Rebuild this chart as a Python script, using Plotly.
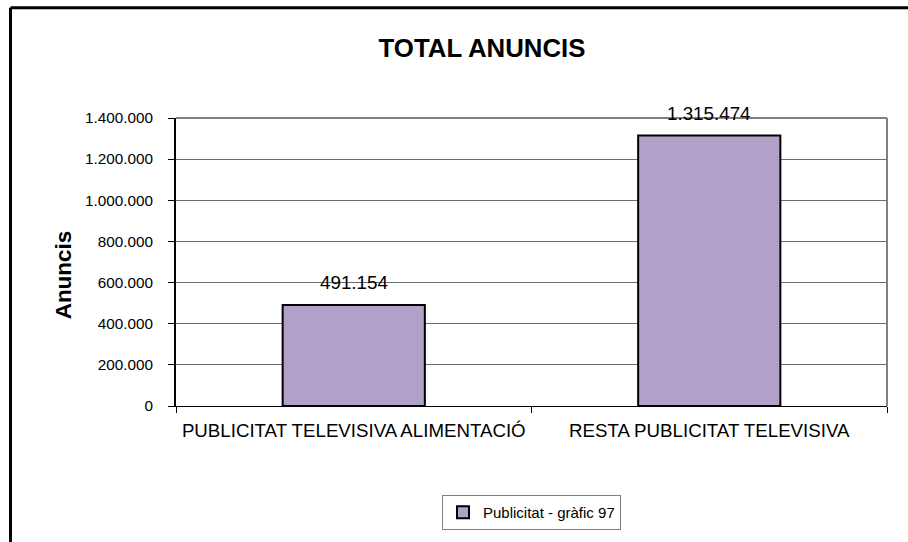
import plotly.graph_objects as go

categories = ["PUBLICITAT TELEVISIVA ALIMENTACIÓ", "RESTA PUBLICITAT TELEVISIVA"]
values = [491154, 1315474]
series_name = "Publicitat - gràfic 97"
y_ticks = [0, 200000, 400000, 600000, 800000, 1000000, 1200000, 1400000]
title_text = "TOTAL ANUNCIS"
y_title = "Anuncis"

FONT = "Liberation Sans, Arial, sans-serif"

fig = go.Figure()
fig.add_trace(go.Bar(
    x=categories, y=values, name=series_name,
    marker=dict(color="#B1A0C7", line=dict(color="black", width=2)),
    width=0.4, showlegend=True,
))

L, R, T, B = 176, 21, 118, 133
W, H = 908, 542
pw, ph = W - L - R, H - T - B


def px_x(x):
    return (x - L) / pw


def px_y(y):
    return (H - B - y) / ph


annotations = []
for c, v in zip(categories, values):
    annotations.append(dict(
        x=c, y=v, xref="x", yref="y", text=f"{v:,}".replace(",", "."),
        showarrow=False, yanchor="middle", yshift=22,
        font=dict(family=FONT, size=18.8, color="black"),
    ))
annotations.append(dict(
    x=px_x(63), y=px_y(276), xref="paper", yref="paper",
    text=f"<b>{y_title}</b>", textangle=-90, showarrow=False,
    xanchor="center", yanchor="middle",
    font=dict(family=FONT, size=22.5, color="black"),
))

shapes = [
    # outer chart border (left and top visible)
    dict(type="line", xref="paper", yref="paper", x0=px_x(10.5), x1=px_x(10.5), y0=px_y(6.5), y1=px_y(560),
         line=dict(color="black", width=3)),
    dict(type="line", xref="paper", yref="paper", x0=px_x(10.5), x1=px_x(920), y0=px_y(6.5), y1=px_y(6.5),
         line=dict(color="black", width=3)),
    # plot area top/right border
    dict(type="line", xref="paper", yref="paper", x0=0, x1=1, y0=1, y1=1,
         line=dict(color="#808080", width=2), layer="above"),
    dict(type="line", xref="paper", yref="paper", x0=1, x1=1, y0=0, y1=1,
         line=dict(color="#808080", width=2), layer="above"),
]

fig.update_layout(
    width=W, height=H,
    margin=dict(l=L, r=R, t=T, b=B),
    paper_bgcolor="white", plot_bgcolor="white",
    separators=",.",
    font=dict(family=FONT, size=16, color="black"),
    title=dict(text=f"<b>{title_text}</b>", x=482 / W, xanchor="center",
               y=1 - 48 / H, yanchor="middle", font=dict(size=25.8, family=FONT, color="black")),
    xaxis=dict(
        type="category", showline=True, linecolor="black", linewidth=1,
        ticks="outside", tickson="boundaries", ticklen=6, tickcolor="black",
        showgrid=False, tickfont=dict(size=18.7), ticklabelstandoff=8,
    ),
    yaxis=dict(
        range=[0, 1400000], tickvals=y_ticks, tickformat=",d",
        showline=True, linecolor="black", linewidth=2,
        ticks="outside", ticklen=6, tickcolor="black",
        showgrid=True, gridcolor="#6e6e6e", gridwidth=1,
        zeroline=False, tickfont=dict(size=15.3), ticklabelstandoff=12,
    ),
    legend=dict(
        x=0.5, xanchor="center", y=px_y(499), yanchor="top",
        bordercolor="#808080", borderwidth=1, bgcolor="white",
        font=dict(size=15), orientation="h",
    ),
    bargap=0.6,
    shapes=shapes,
    annotations=annotations,
)

fig.write_html("out.html", config={"displayModeBar": False},
               post_script="document.body.style.margin='0px';")
